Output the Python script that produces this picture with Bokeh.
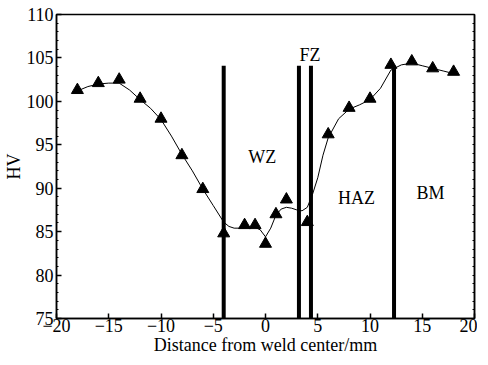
from bokeh.plotting import figure
from bokeh.models import LinearAxis, Range1d, FixedTicker, CustomJSTickFormatter
from bokeh.embed import file_html
from bokeh.resources import INLINE
from bokeh.core.properties import value

# measured hardness points
dist = [-18, -16, -14, -12, -10, -8, -6, -4, -2, -1, 0, 1, 2, 4, 6, 8, 10, 12, 14, 16, 18]
hv = [101.3, 102.1, 102.5, 100.3, 98.0, 93.8, 89.9, 84.8, 85.75, 85.75, 83.6, 87.0, 88.7,
      86.1, 96.2, 99.25, 100.3, 104.2, 104.6, 103.8, 103.4]

# smooth fitted curve
curve_x = [-18, -17, -16, -15, -14, -13, -12, -11, -10, -9, -8, -7, -6, -5, -4, -3.5, -3,
           -2.5, -2, -1.5, -1, -0.5, 0, 0.5, 1, 1.5, 2, 2.5, 3, 3.5, 4, 4.5, 5, 5.5, 6, 7,
           8, 9, 10, 11, 12, 13, 14, 15, 16, 17, 18]
curve_y = [101.2, 101.7, 102.0, 102.1, 102.1, 101.3, 100.2, 99.2, 97.9, 96.0, 93.9, 92.0,
           89.9, 88.0, 86.1, 85.6, 85.4, 85.4, 85.4, 85.5, 85.5, 85.2, 84.4, 85.4, 86.9,
           87.6, 87.8, 87.7, 87.5, 87.4, 87.8, 89.3, 91.2, 93.8, 95.8, 98.0, 99.1, 99.6,
           100.2, 101.5, 103.6, 104.2, 104.4, 104.1, 103.8, 103.5, 103.2]

# zone boundaries
bound_x = [-4.0, 3.2, 4.35, 12.3]
bound_top = 104.1

zone_labels = ["WZ", "FZ", "HAZ", "BM"]
zone_x = [-0.3, 4.25, 8.7, 15.8]
zone_y = [93.6, 105.3, 88.9, 89.5]

x_ticks = [-20, -15, -10, -5, 0, 5, 10, 15, 20]
y_ticks = [75, 80, 85, 90, 95, 100, 105, 110]
y_minor = list(range(75, 111))

FONT = "Liberation Serif"
FS = "18px"
TFS = "18px"

p = figure(frame_width=418, height=357, output_backend="svg", toolbar_location=None,
           x_range=Range1d(-20, 20), y_range=Range1d(75, 110),
           min_border_left=51, min_border_right=3, min_border_top=14, min_border_bottom=36)
p.grid.visible = False
p.outline_line_color = "black"
p.outline_line_width = 1.5
p.background_fill_color = "white"
p.border_fill_color = "white"

for ax in [p.xaxis[0], p.yaxis[0]]:
    ax.axis_line_width = 1.5
    ax.major_tick_in = 5
    ax.major_tick_out = 0
    ax.major_tick_line_width = 1.5
    ax.major_label_text_font = FONT
    ax.major_label_text_font_size = TFS
    ax.major_label_text_color = "black"
    ax.axis_label_text_font = FONT
    ax.axis_label_text_font_style = "normal"
    ax.axis_label_text_font_size = FS
    ax.axis_label_text_color = "black"

p.xaxis[0].ticker = FixedTicker(ticks=x_ticks)
p.xaxis[0].minor_tick_in = 0
p.xaxis[0].minor_tick_out = 0
p.xaxis[0].major_label_standoff = 0
p.xaxis[0].axis_label = "Distance from weld center/mm"
p.xaxis[0].axis_label_standoff = 0
p.xaxis[0].formatter = CustomJSTickFormatter(
    code="return tick < 0 ? '\u2212' + Math.abs(tick) : String(tick);")

p.yaxis[0].ticker = FixedTicker(ticks=y_ticks, minor_ticks=y_minor)
p.yaxis[0].minor_tick_in = 2
p.yaxis[0].minor_tick_out = 0
p.yaxis[0].major_label_standoff = 3
p.yaxis[0].axis_label = "HV"
p.yaxis[0].axis_label_standoff = 0

r_ax = LinearAxis(ticker=FixedTicker(ticks=[], minor_ticks=y_minor))
r_ax.major_tick_in = 0
r_ax.major_tick_out = 0
r_ax.minor_tick_in = 2
r_ax.minor_tick_out = 0
r_ax.major_label_standoff = 0
r_ax.axis_label_standoff = 0
r_ax.axis_line_width = 1.5
p.add_layout(r_ax, "right")

p.segment(x0=bound_x, y0=[75] * len(bound_x), x1=bound_x, y1=[bound_top] * len(bound_x),
          line_color="black", line_width=4)

p.line(curve_x, curve_y, line_color="black", line_width=1)
p.scatter(dist, hv, marker="triangle", size=12, fill_color="black", line_color="black")

p.text(x=zone_x, y=zone_y, text=zone_labels, text_font=value(FONT), text_font_size=FS,
       text_align="center", text_baseline="middle", text_color="black")

open("out.html", "w").write(file_html(p, INLINE))
